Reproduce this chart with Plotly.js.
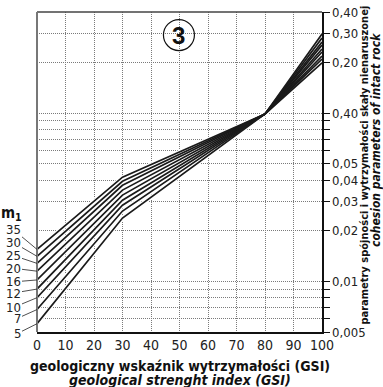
<!DOCTYPE html>
<html><head><meta charset="utf-8">
<script src="https://cdn.plot.ly/plotly-3.0.1.min.js"></script>
<style>body{margin:0;background:#fff}#c{width:383px;height:387px}</style>
</head><body><div id="c"></div>
<script>
// GSI break points
const gsi = [0, 30, 80, 100];
// m_i values (label order, top to bottom at GSI = 0)
const miLabels = ['35','30','25','20','16','12','10','7','5'];
// cohesion parameter values at each GSI break point, per m_i
const m35 = [0.0155, 0.0417, 0.099, 0.199];
const m30 = [0.0141, 0.0394, 0.099, 0.210];
const m25 = [0.0128, 0.0373, 0.099, 0.219];
const m20 = [0.0115, 0.0349, 0.099, 0.231];
const m16 = [0.0102, 0.0326, 0.099, 0.241];
const m12 = [0.0090, 0.0304, 0.099, 0.254];
const m10 = [0.0080, 0.0284, 0.099, 0.265];
const m7  = [0.0068, 0.0262, 0.099, 0.280];
const m5  = [0.0056, 0.0238, 0.099, 0.296];
const series = [m35, m30, m25, m20, m16, m12, m10, m7, m5];

// right axis ticks
const yTickVals = [0.005,0.006,0.007,0.008,0.009,0.01,0.02,0.03,0.04,0.05,0.06,0.07,0.08,0.09,0.1,0.2,0.3,0.4];
const yTickText = ['0,005','','','','','0,01','0,02','0,03','0,04','0,05','','','','','0,40','0,20','0,30','0,40'];
const xTickVals = [0,10,20,30,40,50,60,70,80,90,100];

// label offsets (pixels) for the m_i leader labels
const labelAx = [-24,-24,-24,-24,-24,-24,-24,-20,-20];
const labelAy = [-20,-14,-8,-3,2,4,10,9,10];

const FONT = '"Liberation Sans Narrow", "DejaVu Sans Condensed", Arial, sans-serif';

const traces = [];
series.forEach(s => {
  traces.push({x: gsi, y: s, mode: 'lines', line: {color: '#ffffff', width: 4}, hoverinfo: 'skip', showlegend: false});
});
series.forEach(s => {
  traces.push({x: gsi, y: s, mode: 'lines', line: {color: '#1a1a1a', width: 1.7}, showlegend: false});
});

const annotations = series.map((s, i) => ({
  x: 0, y: Math.log10(s[0]), xref: 'x', yref: 'y',
  text: miLabels[i], showarrow: true, arrowhead: 0, arrowwidth: 0.8, arrowcolor: '#222',
  ax: labelAx[i], ay: labelAy[i], standoff: 0, startstandoff: 0,
  font: {family: FONT, size: 13, color: '#222'}
}));
annotations.push({x: -0.09, y: 0.37, xref: 'paper', yref: 'paper', xanchor: 'center', yanchor: 'middle',
  text: '<b>m<sub>1</sub></b>', showarrow: false, font: {family: FONT, size: 15, color: '#111'}});
annotations.push({x: 0.498, y: 0.928, xref: 'paper', yref: 'paper', xanchor: 'center', yanchor: 'middle',
  text: '<b>3</b>', showarrow: false, font: {family: 'Arial, sans-serif', size: 24, color: '#111'}});
annotations.push({x: 1, y: 0.52, xref: 'paper', yref: 'paper', xshift: 43, xanchor: 'center', yanchor: 'middle',
  textangle: -90, text: '<b>parametry spójności i wytrzymałości skały nienaruszonej</b>', showarrow: false,
  font: {family: FONT, size: 11, color: '#111'}});
annotations.push({x: 1, y: 0.6, xref: 'paper', yref: 'paper', xshift: 54, xanchor: 'center', yanchor: 'middle',
  textangle: -90, text: '<b><i>cohesion parameters of intact rock</i></b>', showarrow: false,
  font: {family: FONT, size: 12, color: '#111'}});
annotations.push({x: 0.5, y: 0, xref: 'paper', yref: 'paper', yshift: -34, xanchor: 'center', yanchor: 'middle',
  text: '<b>geologiczny wskaźnik wytrzymałości (GSI)</b>', showarrow: false,
  font: {family: FONT, size: 14, color: '#111'}});
annotations.push({x: 0.5, y: 0, xref: 'paper', yref: 'paper', yshift: -48, xanchor: 'center', yanchor: 'middle',
  text: '<b><i>geological strenght index (GSI)</i></b>', showarrow: false,
  font: {family: FONT, size: 14, color: '#111'}});

const layout = {
  width: 383, height: 387,
  margin: {l: 37, r: 61, t: 12, b: 55, pad: 0},
  paper_bgcolor: '#fff', plot_bgcolor: '#fff',
  showlegend: false,
  xaxis: {range: [0, 100], tickvals: xTickVals, ticks: '', showgrid: true, gridcolor: '#7a7a7a', griddash: '1px,1px', gridwidth: 1,
    zeroline: false, showline: true, linecolor: '#111', linewidth: 1.5,
    tickfont: {family: FONT, size: 14, color: '#222'}, fixedrange: true},
  yaxis: {type: 'log', side: 'right', range: [Math.log10(0.005), Math.log10(0.4)], tickvals: yTickVals, ticktext: yTickText,
    ticks: 'outside', ticklen: 6, tickcolor: '#111', tickwidth: 1,
    showgrid: true, gridcolor: '#7a7a7a', griddash: '1px,1px', gridwidth: 1,
    zeroline: false, showline: true, linecolor: '#111', linewidth: 1.5,
    tickfont: {family: FONT, size: 13, color: '#222'}, fixedrange: true},
  shapes: [
    {type: 'line', xref: 'paper', yref: 'paper', x0: 0, x1: 1, y0: 1, y1: 1, line: {color: '#444', width: 1.5}},
    {type: 'line', xref: 'paper', yref: 'paper', x0: 0, x1: 0, y0: 0, y1: 1, line: {color: '#777', width: 2}},
    {type: 'circle', xref: 'paper', yref: 'paper', xsizemode: 'pixel', ysizemode: 'pixel', xanchor: 0.498, yanchor: 0.928,
      x0: -15.5, x1: 15.5, y0: -15.5, y1: 15.5, line: {color: '#111', width: 1.2}, fillcolor: 'rgba(255,255,255,0)'}
  ],
  annotations: annotations
};
Plotly.newPlot('c', traces, layout, {displayModeBar: false, staticPlot: true});
</script></body></html>
